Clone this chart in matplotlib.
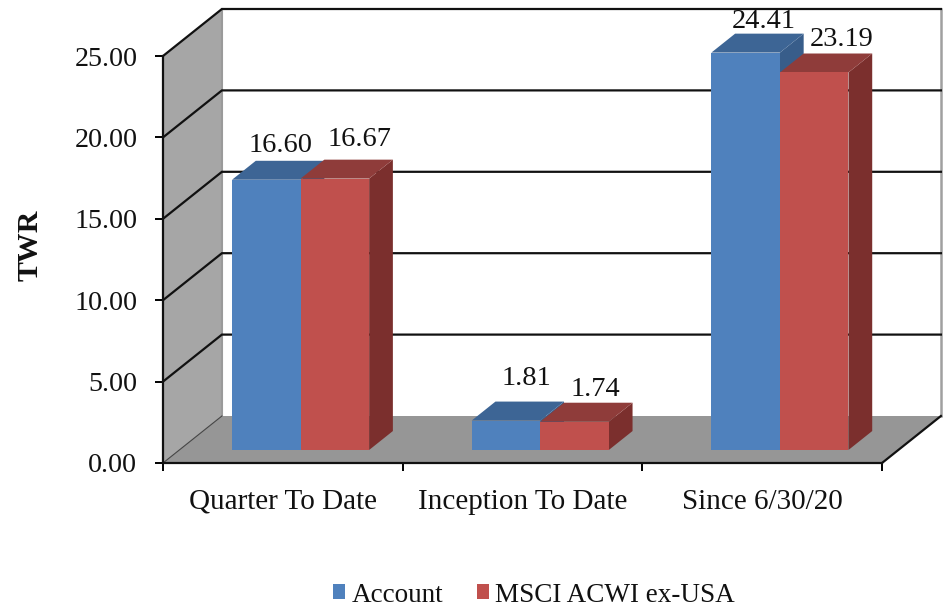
import matplotlib
matplotlib.use("Agg")
import matplotlib.pyplot as plt
from matplotlib.patches import Patch, Polygon

plt.rcParams["font.family"] = ["Liberation Serif", "DejaVu Serif"]

categories = ["Quarter To Date", "Inception To Date", "Since 6/30/20"]
account = [16.60, 1.81, 24.41]
msci = [16.67, 1.74, 23.19]
series_names = ["Account", "MSCI ACWI ex-USA"]
y_ticks = [0, 5, 10, 15, 20, 25]

W, H = 951, 607
# depth of the fake 3d box, in data units
DEPTH_X = 59 / 240
DEPTH_Y = 47 / 16.28
BAR_WIDTH = 0.286
BAR_FRONT = 0.277
BAR_BACK = 0.68


def proj(x, y, d):
    return (x + d * DEPTH_X, y + d * DEPTH_Y)


def face(ax, pts, color, z):
    ax.add_patch(Polygon(pts, closed=True, facecolor=color, edgecolor="none",
                         clip_on=False, zorder=z))


def draw_bar(ax, left, value, front, top, side):
    right = left + BAR_WIDTH
    face(ax, [proj(right, 0, BAR_FRONT), proj(right, 0, BAR_BACK),
              proj(right, value, BAR_BACK), proj(right, value, BAR_FRONT)], side, 3)
    face(ax, [proj(left, value, BAR_FRONT), proj(right, value, BAR_FRONT),
              proj(right, value, BAR_BACK), proj(left, value, BAR_BACK)], top, 3)
    face(ax, [proj(left, 0, BAR_FRONT), proj(right, 0, BAR_FRONT),
              proj(right, value, BAR_FRONT), proj(left, value, BAR_FRONT)], front, 3)


fig = plt.figure(figsize=(W / 100, H / 100), dpi=100)
ax = fig.add_axes([163 / W, (H - 463) / H, 719 / W, 407 / H])
ax.set_xlim(0, 3)
ax.set_ylim(0, 25)
ax.patch.set_visible(False)

# walls and floor
face(ax, [proj(0, 0, 0), proj(0, 0, 1), proj(0, 25, 1), proj(0, 25, 0)], "#a6a6a6", 1)
face(ax, [proj(0, 0, 0), proj(3, 0, 0), proj(3, 0, 1), proj(0, 0, 1)], "#969696", 1)

# gridlines run over the side wall and the back wall
for v in y_ticks[1:]:
    xs, ys = zip(proj(0, v, 0), proj(0, v, 1), proj(3, v, 1))
    ax.plot(xs, ys, color="#111111", lw=1.6, clip_on=False, zorder=2,
            solid_joinstyle="miter")

xs, ys = zip(proj(0, 0, 1), proj(0, 25, 1))
ax.plot(xs, ys, color="#9a9a9a", lw=1.5, clip_on=False, zorder=1.5)
xs, ys = zip(proj(3, 0, 1), proj(3, 25, 1))
ax.plot(xs, ys, color="#a0a0a0", lw=1.8, clip_on=False, zorder=1.5)
xs, ys = zip(proj(0, 0, 0), proj(0, 0, 1))
ax.plot(xs, ys, color="#444444", lw=0.8, clip_on=False, zorder=2)
xs, ys = zip(proj(3, 0, 0), proj(3, 0, 1))
ax.plot(xs, ys, color="#111111", lw=1.6, clip_on=False, zorder=2)

# bars
label_shift = [((10, 24.5), (18, 28)), ((15, 30), (15, 23.5)), ((13, 22.7), (20, 23.5))]
for i, cat in enumerate(categories):
    start = i + 0.506 - BAR_WIDTH
    draw_bar(ax, start, account[i], "#4f81bd", "#3d6595", "#385d8a")
    draw_bar(ax, start + BAR_WIDTH, msci[i], "#c0504d", "#8f3c3a", "#7b2f2d")
    for j, v in enumerate([account[i], msci[i]]):
        x, y = proj(start + BAR_WIDTH * (j + 0.5), v, BAR_FRONT)
        ax.annotate(f"{v:.2f}", (x, y), xytext=label_shift[i][j],
                    textcoords="offset points", ha="center", va="center",
                    fontsize=20.5, color="#111111", annotation_clip=False, zorder=5)

for name in ["top", "right"]:
    ax.spines[name].set_visible(False)
for name in ["left", "bottom"]:
    ax.spines[name].set_linewidth(1.6)
    ax.spines[name].set_color("#111111")

ax.set_yticks(y_ticks)
ax.set_yticklabels([f"{v:.2f}" for v in y_ticks], fontsize=20.2, color="#111111")
ax.set_xticks(range(4))
ax.set_xticklabels([])
ax.set_xticks([i + 0.5 for i in range(3)], minor=True)
ax.set_xticklabels(categories, minor=True, fontsize=21, color="#111111")
ax.tick_params(axis="y", length=6, width=1.4, pad=12.5)
ax.tick_params(axis="x", which="major", length=6, width=1.4)
ax.tick_params(axis="x", which="minor", length=0, pad=18.5)

fig.text(30 / W, 1 - 245 / H, "TWR", rotation=90, ha="center", va="center",
         fontsize=21.5, fontweight="bold", color="#111111")

handles = [Patch(facecolor="#4f81bd", label=series_names[0]),
           Patch(facecolor="#c0504d", label=series_names[1])]
fig.legend(handles=handles, loc="center", bbox_to_anchor=(534 / W, 1 - 595 / H),
           ncol=2, frameon=False, fontsize=19.5, handlelength=0.46, handleheight=0.46,
           handletextpad=0.22, columnspacing=1.25, labelcolor="#111111")

fig.savefig("out.png", dpi=100)
